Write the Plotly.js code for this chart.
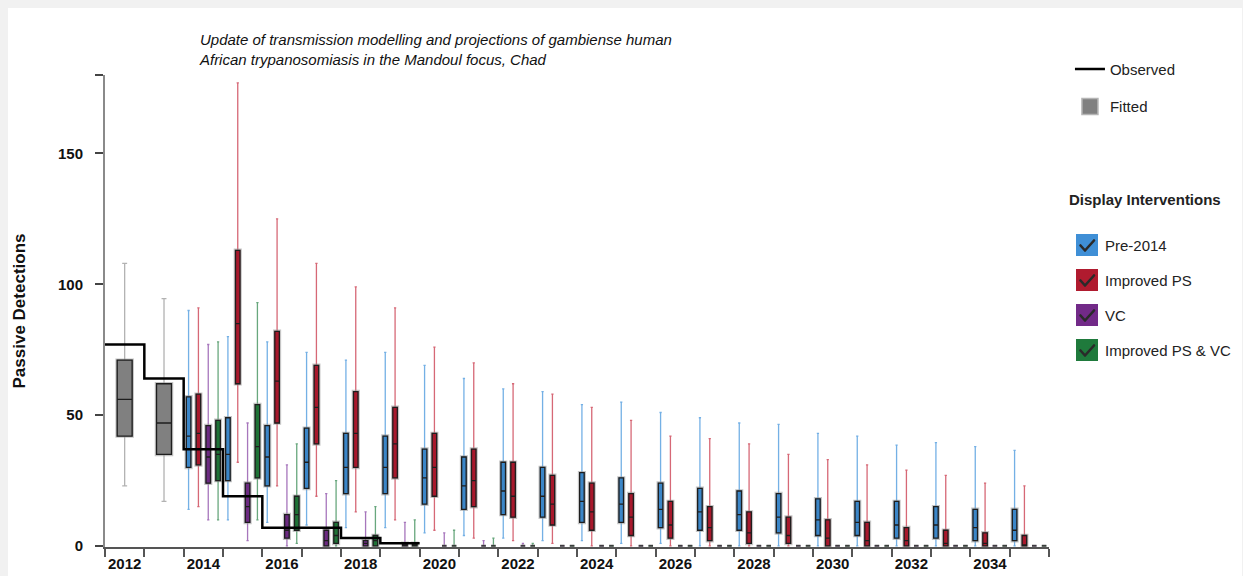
<!DOCTYPE html>
<html>
<head>
<meta charset="utf-8">
<script src="https://cdn.plot.ly/plotly-3.0.1.min.js"></script>
<style>
  html, body { margin:0; padding:0; }
  body { width:1243px; height:576px; background:#f1f1f1; position:relative; overflow:hidden;
         font-family:"Liberation Sans", Arial, sans-serif; }
  #panel { position:absolute; left:8px; top:8px; width:1234px; height:568px; background:#fff; }
  #chart { position:absolute; left:0; top:0; width:1234px; height:568px; }
  #interv { position:absolute; left:1061px; top:180px; width:170px; color:#222; }
  #interv .head { font-weight:700; font-size:15px; margin:0 0 22px 0; height:24px; line-height:24px; }
  .item { display:flex; align-items:center; height:22px; margin:0 0 13px 7px; cursor:pointer; font-size:15px; }
  .box { width:22px; height:22px; box-sizing:border-box; margin-right:7px; position:relative; }
  .box svg { position:absolute; left:0; top:0; }
</style>
</head>
<body>
<div id="panel">
  <div id="chart"></div>
  <div id="interv">
    <div class="head">Display Interventions</div>
    <div id="items"></div>
  </div>
</div>
<script>
// ---------------- data ----------------
const years = [2012,2013,2014,2015,2016,2017,2018,2019,2020,2021,2022,2023,2024,2025,2026,2027,2028,2029,2030,2031,2032,2033,2034,2035];

// Observed passive detections (step line)
const obsYears = [2012,2013,2014,2015,2016,2017,2018,2019];
const observed = [77,64,37,19,7,7,3,1];

// Fitted (grey boxes)
const fitYears = [2012,2013];
const fitLow  = [23,17];
const fitQ1   = [42,35];
const fitMed  = [56,47];
const fitQ3   = [71,62];
const fitHigh = [108,94.5];

// Projection years
const projYears = [2014,2015,2016,2017,2018,2019,2020,2021,2022,2023,2024,2025,2026,2027,2028,2029,2030,2031,2032,2033,2034,2035];

// Pre-2014
const preLow  = [14,10,9,8,7,7,5,4,3,2,2,1,1,0,0,0,0,0,0,0,0,0];
const preQ1   = [30,25,23,22,20,20,16,14,12,11,9,9,7,6,6,5,4,4,3,3,2,2];
const preMed  = [42,35,34,32,30,30,26,23,21,19,17,16,14,13,12,11,10,9,8,8,7,6];
const preQ3   = [57,49,46,45,43,42,37,34,32,30,28,26,24,22,21,20,18,17,17,15,14,14];
const preHigh = [90,80,78,74,71,74,69,64,60,59,54,55,51,49,47,46.5,43,42,38.5,39.5,38,36.5];

// Improved PS
const psLow  = [15,32,23,19,13,10,6,3,2,1,0,0,0,0,0,0,0,0,0,0,0,0];
const psQ1   = [31,62,47,39,30,26,19,15,11,8,6,4,3,2,1,1,0,0,0,0,0,0];
const psMed  = [43,85,63,53,43,39,30,25,19,16,13,11,8,7,5,4,3,2,2,1,1,0];
const psQ3   = [58,113,82,69,59,53,43,37,32,27,24,20,17,15,13,11,10,9,7,6,5,4];
const psHigh = [91,177,125,108,99,91,76,70,62,58,53,48,42,41,39,35,33,31,29,27,24,23];

// VC
const vcLow  = [10,2,0,0,0,0,0,0,0,0,0,0,0,0,0,0,0,0,0,0,0,0];
const vcQ1   = [24,9,3,0,0,0,0,0,0,0,0,0,0,0,0,0,0,0,0,0,0,0];
const vcMed  = [34,15,6,2,1,0,0,0,0,0,0,0,0,0,0,0,0,0,0,0,0,0];
const vcQ3   = [46,24,12,6,2,1,0,0,0,0,0,0,0,0,0,0,0,0,0,0,0,0];
const vcHigh = [77,47,31,20,13,9,5,2,1,0,0,0,0,0,0,0,0,0,0,0,0,0];

// Improved PS & VC
const bothLow  = [10,10,1,0,0,0,0,0,0,0,0,0,0,0,0,0,0,0,0,0,0,0];
const bothQ1   = [25,26,6,1,0,0,0,0,0,0,0,0,0,0,0,0,0,0,0,0,0,0];
const bothMed  = [35,38,12,4,2,0,0,0,0,0,0,0,0,0,0,0,0,0,0,0,0,0];
const bothQ3   = [48,54,19,9,4,1,0,0,0,0,0,0,0,0,0,0,0,0,0,0,0,0];
const bothHigh = [78,93,39,25,15,10,6,3,1,0,0,0,0,0,0,0,0,0,0,0,0,0];

const seriesNames = ['Pre-2014','Improved PS','VC','Improved PS & VC'];
const yTicks = [0,50,100,150,180];
const yTickText = ['0','50','100','150',''];

// ---------------- styles ----------------
const FONT = '"Liberation Sans", Arial, sans-serif';
const series = [
  {name: seriesNames[0], lo: preLow, q1: preQ1, med: preMed, q3: preQ3, hi: preHigh,
   fill: '#3b86c8', whisk: 'rgba(70,150,220,0.75)', check: '#3f8fd6'},
  {name: seriesNames[1], lo: psLow, q1: psQ1, med: psMed, q3: psQ3, hi: psHigh,
   fill: '#a8182c', whisk: 'rgba(196,40,60,0.7)', check: '#b01b2f'},
  {name: seriesNames[2], lo: vcLow, q1: vcQ1, med: vcMed, q3: vcQ3, hi: vcHigh,
   fill: '#6c2a82', whisk: 'rgba(130,60,160,0.7)', check: '#722a88'},
  {name: seriesNames[3], lo: bothLow, q1: bothQ1, med: bothMed, q3: bothQ3, hi: bothHigh,
   fill: '#1e7236', whisk: 'rgba(40,130,70,0.7)', check: '#1f7a3c'}
];

function boxSet(xs, lo, q1, med, q3, hi, o) {
  const base = {type:'box', orientation:'v', x: xs, q1: q1, median: med, q3: q3,
                boxpoints:false, hoverinfo:'skip', width:o.width, xaxis:'x', yaxis:'y', showlegend:false};
  const whisk = Object.assign({}, base, {lowerfence: lo, upperfence: hi, whiskerwidth:o.ww,
                line:{color:o.whisk, width:1.3}, fillcolor:'rgba(0,0,0,0)'});
  const halo = Object.assign({}, base, {lowerfence: q1, upperfence: q3, whiskerwidth:0,
                line:{color:'rgba(150,150,150,0.55)', width:3.6}, fillcolor:o.fill});
  const main = Object.assign({}, base, {lowerfence: q1, upperfence: q3, whiskerwidth:0,
                line:{color:'#1e1e1e', width:1.3}, fillcolor:o.fill});
  return [whisk, halo, main];
}

const traces = [];
// fitted
traces.push(...boxSet(fitYears.map(y => y + 0.5), fitLow, fitQ1, fitMed, fitQ3, fitHigh,
  {width:0.38, ww:0.33, whisk:'rgba(170,170,170,0.9)', fill:'#808080'}));

const seriesIdx = [];
series.forEach((s, i) => {
  const xs = projYears.map(y => y + 0.125 + 0.25 * i);
  const start = traces.length;
  traces.push(...boxSet(xs, s.lo, s.q1, s.med, s.q3, s.hi,
    {width:0.115, ww:0.5, whisk:s.whisk, fill:s.fill}));
  seriesIdx.push([start, start+1, start+2]);
});

// observed step line
const obsX = obsYears.concat([obsYears[obsYears.length-1] + 1]);
const obsY = observed.concat([observed[observed.length-1]]);
traces.push({type:'scatter', mode:'lines', x: obsX, y: obsY, line:{shape:'hv', color:'#000', width:2.5},
  name:'Observed', legendgroup:'a', legendrank:1, hoverinfo:'skip', xaxis:'x', yaxis:'y'});

// legend key for the fitted boxes (no data of its own)
traces.push({type:'scatter', mode:'markers', x:[null], y:[null], name:'Fitted', legendgroup:'b', legendrank:2,
  marker:{symbol:'square', size:16, color:'#808080', line:{color:'#b5b5b5', width:1.5}}, hoverinfo:'skip'});

const labelYears = years.filter(y => (y - years[0]) % 2 === 0);
const bounds = years.concat([years[years.length-1] + 1]);

const layout = {
  width:1234, height:568,
  margin:{l:97, r:193, t:67, b:29},
  paper_bgcolor:'#fff', plot_bgcolor:'#fff',
  boxmode:'overlay',
  font:{family:FONT, color:'#222'},
  title:{text:'<i>Update of transmission modelling and projections of gambiense human<br>African trypanosomiasis in the Mandoul focus, Chad</i>',
         x:0.1006, xref:'paper', xanchor:'left', y:0.934, yref:'container', yanchor:'top',
         font:{family:FONT, size:15, color:'#111'}},
  showlegend:true,
  legend:{x:1.0222, xanchor:'left', y:1.047, yanchor:'top', traceorder:'grouped', tracegroupgap:15,
          font:{family:FONT, size:15, color:'#222'}, bgcolor:'rgba(0,0,0,0)', itemclick:false, itemdoubleclick:false},
  xaxis:{range:[bounds[0], bounds[bounds.length-1]], tickmode:'array',
         tickvals: labelYears.map(y => y + 0.5), ticktext: labelYears.map(String),
         ticks:'', showline:true, linecolor:'#555', linewidth:2, showgrid:false, zeroline:false,
         tickfont:{family:FONT, size:15, weight:700, color:'#111'}, ticklabelstandoff:2,
         minor:{tickmode:'array', tickvals: bounds, ticks:'outside', ticklen:8, tickwidth:1.5, tickcolor:'#555', showgrid:false},
         fixedrange:true},
  yaxis:{range:[-0.4,180], tickmode:'array', tickvals:yTicks, ticktext:yTickText,
         ticks:'outside', ticklen:8, tickwidth:1.5, tickcolor:'#444',
         showline:true, linecolor:'#8a8a8a', linewidth:2, showgrid:false, zeroline:false,
         tickfont:{family:FONT, size:15, weight:700, color:'#111'}, ticklabelstandoff:9,
         title:{text:'Passive Detections', font:{family:FONT, size:17, weight:700, color:'#111'}, standoff:28},
         fixedrange:true}
};

Plotly.newPlot('chart', traces, layout, {displayModeBar:false, responsive:false});

// intervention toggles
const items = document.getElementById('items');
series.forEach((s, i) => {
  const it = document.createElement('div');
  it.className = 'item';
  it.innerHTML = '<div class="box" style="background:' + s.check + '">' +
    '<svg width="22" height="22" viewBox="0 0 22 22"><path class="ck" d="M4.5 11.5 L9 16.5 L18 6.5" fill="none" stroke="#2a2a2a" stroke-width="2.6" stroke-linecap="round" stroke-linejoin="round"/></svg>' +
    '</div><span>' + s.name + '</span>';
  let on = true;
  it.addEventListener('click', () => {
    on = !on;
    it.querySelector('.ck').style.display = on ? '' : 'none';
    Plotly.restyle('chart', {visible: on}, seriesIdx[i]);
  });
  items.appendChild(it);
});
</script>
</body>
</html>
